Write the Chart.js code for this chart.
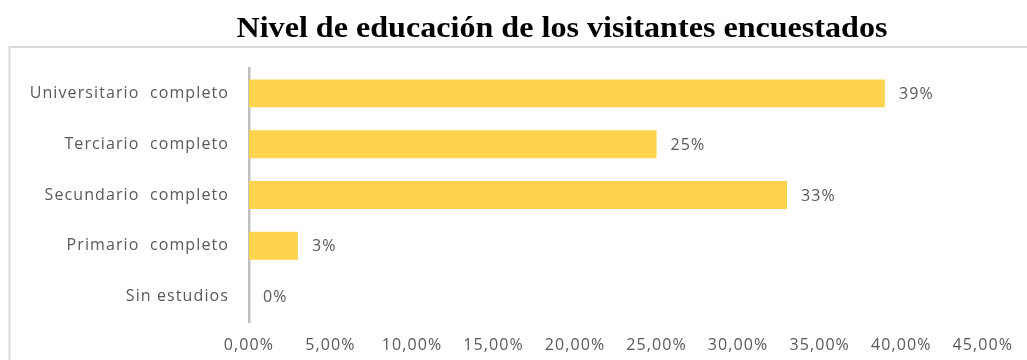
<!DOCTYPE html>
<html>
<head>
<meta charset="utf-8">
<script src="https://cdn.jsdelivr.net/npm/chart.js@4.4.1/dist/chart.umd.min.js"></script>
<style>
  html, body { margin: 0; padding: 0; background: #ffffff; }
  #wrap { width: 1027px; height: 360px; position: relative; }
</style>
</head>
<body>
<div id="wrap"><canvas id="chart" width="1027" height="360"></canvas></div>
<script>
// Education level of surveyed visitors (share of respondents, %)
const chartTitle = 'Nivel de educación de los visitantes encuestados';
const categories = ['Universitario  completo', 'Terciario  completo', 'Secundario  completo', 'Primario  completo', 'Sin estudios'];
const shares = [39, 25, 33, 3, 0];
const valueLabels = ['39%', '25%', '33%', '3%', '0%'];
const axisMin = 0;
const axisMax = 45;
const axisStep = 5;

const labelFont = { family: '"Open Sans", "DejaVu Sans", sans-serif', size: 16 };
const labelSpacing = '1.1px';
const textGray = '#595959';

// Light frame around the plot panel, and slightly wider tracking for label text
const framePlugin = {
  id: 'frame',
  beforeUpdate(chart) { chart.ctx.letterSpacing = labelSpacing; },
  beforeDraw(chart) {
    const ctx = chart.ctx;
    ctx.letterSpacing = labelSpacing;
    ctx.save();
    ctx.fillStyle = '#ffffff';
    ctx.fillRect(0, 0, chart.width, chart.height);
    ctx.strokeStyle = '#d9d9d9';
    ctx.lineWidth = 2;
    ctx.strokeRect(9.5, 47, chart.width + 40, chart.height + 40);
    ctx.restore();
  }
};

// Heading above the frame
const headingPlugin = {
  id: 'heading',
  afterDraw(chart) {
    const ctx = chart.ctx;
    ctx.save();
    ctx.letterSpacing = '0px';
    ctx.font = 'bold 29px "Liberation Serif", "Times New Roman", serif';
    ctx.fillStyle = '#000000';
    ctx.textAlign = 'center';
    ctx.textBaseline = 'alphabetic';
    ctx.translate(562, 37);
    ctx.scale(1.107, 1);
    ctx.fillText(chartTitle, 0, 0);
    ctx.restore();
  }
};

// Percentage text to the right of each bar
const valueLabelPlugin = {
  id: 'valueLabels',
  afterDatasetsDraw(chart) {
    const ctx = chart.ctx;
    const meta = chart.getDatasetMeta(0);
    ctx.save();
    ctx.letterSpacing = labelSpacing;
    ctx.font = labelFont.size + 'px ' + labelFont.family;
    ctx.fillStyle = textGray;
    ctx.textAlign = 'left';
    ctx.textBaseline = 'middle';
    meta.data.forEach((bar, i) => {
      ctx.fillText(valueLabels[i], bar.x + 14, bar.y + 1);
    });
    ctx.restore();
  }
};

new Chart(document.getElementById('chart'), {
  type: 'bar',
  data: {
    labels: categories,
    datasets: [{
      data: shares,
      backgroundColor: '#FFD34E',
      borderWidth: 0,
      categoryPercentage: 1,
      barPercentage: 0.55
    }]
  },
  options: {
    indexAxis: 'y',
    responsive: false,
    animation: false,
    layout: { padding: { left: 0, right: 44, top: 68, bottom: 0 } },
    plugins: {
      legend: { display: false },
      title: { display: false },
      tooltip: { enabled: false }
    },
    scales: {
      x: {
        min: axisMin,
        max: axisMax,
        ticks: {
          stepSize: axisStep,
          color: textGray,
          font: labelFont,
          padding: 14,
          maxRotation: 0,
          callback: (v) => v.toFixed(2).replace('.', ',') + '%'
        },
        grid: { display: false, drawTicks: false },
        border: { display: false },
        afterFit(scale) { scale.height = 38; }
      },
      y: {
        ticks: {
          color: textGray,
          font: labelFont,
          padding: 20
        },
        grid: { display: false, drawTicks: false },
        border: { display: true, color: '#bfbfbf', width: 2.5 },
        afterFit(scale) { scale.width = 249; }
      }
    }
  },
  plugins: [framePlugin, headingPlugin, valueLabelPlugin]
});
</script>
</body>
</html>
